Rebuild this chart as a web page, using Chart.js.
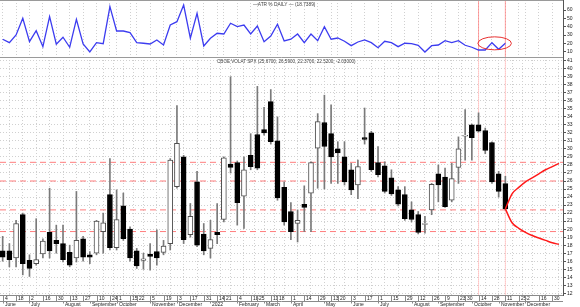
<!DOCTYPE html>
<html><head><meta charset="utf-8">
<script src="https://cdn.jsdelivr.net/npm/chart.js@4.4.0/dist/chart.umd.min.js"></script>
<style>
html,body{margin:0;padding:0;background:#fff;overflow:hidden}
#wrap{position:relative;width:580px;height:307px;background:#fff}
.box{position:absolute;left:0;width:580px}
</style></head><body>
<div id="wrap">
<div class="box" style="top:0;height:57px"><canvas id="c1" width="580" height="57"></canvas></div>
<div class="box" style="top:57px;height:250px"><canvas id="c2" width="580" height="250"></canvas></div>
</div>
<script>
// ---- data (weekly candles, Jun 4 2021 .. Nov 11 2022) ----
const opens = [17.3,17.3,16.4,21.8,16.1,15.7,16.9,19.6,18.6,18.2, 17.1,16.4,18.8,16.8,17.0,19.7,24.3,17.7,22.9,20.0, 17.3,16.1,16.9,17.2,17.1,18.2,25.3,29.0,19.3,25.9, 19.4,17.6,19.6,21.2,28.1,28.3,24.1,29.2,31.8,32.4, 35.9,31.0,25.2,22.2,20.7,23.1,24.5,30.1,33.3,31.9, 30.0,29.0,27.4,25.5,31.4,32.0,28.3,27.9,26.4,24.9, 24.3,22.4,21.8,20.6,22.4,26.9,26.5,23.6,27.7,31.6, 33.0,33.0,32.3,30.8,26.9,25.67];
const highs = [19.1,18.2,21.1,22.0,16.8,21.3,18.8,25.1,20.5,20.5, 18.0,24.7,19.1,17.2,21.1,22.0,28.8,24.9,24.5,20.3, 17.6,17.0,18.2,19.9,18.6,28.8,35.4,29.2,23.2,27.2, 20.7,21.1,23.2,29.0,39.0,28.5,29.0,31.9,37.8,35.2, 37.4,34.0,25.9,23.3,22.4,25.4,28.4,34.4,36.7,35.5, 30.9,30.9,28.2,28.6,35.1,32.2,30.3,28.4,27.4,25.3, 25.3,23.4,22.2,21.6,25.7,28.0,27.6,28.2,31.5,34.9, 33.1,34.5,32.6,30.9,27.2,26.59];
const lows = [16.0,15.3,15.3,14.3,14.1,15.5,16.4,16.4,17.0,15.9, 15.3,15.9,16.0,15.7,16.8,17.0,17.4,17.4,18.6,16.0, 15.1,15.0,14.9,15.5,16.8,17.4,25.1,18.2,19.0,17.8, 16.8,16.4,18.2,20.9,27.0,20.5,20.1,27.4,27.4,31.7, 30.6,23.6,20.5,18.7,18.4,19.7,19.7,25.1,25.0,25.7, 25.7,25.5,24.3,23.8,30.6,27.2,26.5,24.5,24.2,22.9, 21.1,20.9,19.4,19.5,21.8,23.4,22.7,23.4,25.7,28.6, 28.6,32.1,29.4,25.7,24.0,22.37];
const closes = [16.5,16.2,20.7,15.7,15.1,16.2,18.5,17.3,18.2,16.2, 15.5,18.6,16.5,16.5,21.0,20.8,17.7,21.2,18.8,16.4, 15.4,16.3,16.6,16.4,17.9,28.6,30.7,18.7,21.6,18.0, 17.3,18.7,19.3,28.9,27.7,23.3,27.4,27.8,27.6,32.0, 30.9,23.9,20.9,19.7,21.1,22.7,28.3,33.4,30.3,29.0, 29.5,25.9,24.9,27.8,31.2,27.4,26.8,24.7,24.4,23.1, 21.3,21.2,19.6,20.7,25.6,25.5,22.8,26.3,30.0,31.7, 31.4,32.2,29.8,25.9,24.7,22.52];
const atrPct = [24.9,20.8,30.0,50.0,22.0,35.2,16.0,52.0,18.9,27.3, 15.3,48.8,19.2,9.6,20.8,19.6,64.0,34.8,34.8,32.8, 20.8,20.1,19.2,24.0,18.0,42.0,46.0,66.0,26.1,56.0, 16.8,26.1,32.1,31.2,44.1,40.0,42.0,31.2,40.8,22.0, 28.8,42.9,22.8,24.9,31.2,20.8,31.2,23.2,40.0,24.9, 26.4,22.5,17.2,21.6,24.0,20.8,14.8,22.5,20.8,16.0, 20.1,19.6,17.7,9.6,17.2,18.0,23.2,20.8,23.2,17.7, 15.3,12.0,12.0,20.8,12.9,20.1];
// projection cone from last close, next 8 weeks
const projStart = 75;
const projUpper = [22.52,24.4,25.2,25.9,26.4,26.9,27.4,27.8,28.2];
const projLower = [22.52,20.8,20.1,19.6,19.2,18.9,18.6,18.3,18.1];
const levels = [28.33,26.0,22.4,19.7];
const markerWeeks = [71,75];
// axis labels (week index -> text)
const dayTickIdx = [0,2,4,6,8,10,12,14,16,17,19,20,22,24,26,28,30,32,33,35,37,38,40,41,43,45,47,49,50,52,54,56,58,60,62,64,66,68,69,71,73,75,77,78,80,82];
const dayTickText = ['4','18','2','16','30','13','27','10','24','1','15','22','5','19','3','17','31','14','21','4','18','25','11','18','1','14','29','13','20','3','17','1','15','29','12','26','9','23','30','14','28','11','25','2','16','30'];
const monthIdx = [0,4,9,13,17,22,26,31,35,39,43,48,52,56,61,65,70,74,78];
const monthText = ['June','July','August','September','October','November','December','2022','February','March','April','May','June','July','August','September','October','November','December'];
const vixTicks = [12,13,14,15,16,17,18,19,20,21,22,23,24,25,26,27,28,29,30,31,32,33,34,35,36,37,38,39,40,41];
const atrTicks = [10,20,30,40,50,60];
const mainTitle = 'CBOE VOLAT SPX (25.6700, 26.5900, 22.3700, 22.5200, -2.03000)';
const atrTitle = '\u2014ATR % DAILY \u2014 (18.7389)';

const XMIN = -0.4, XMAX = 83.6;
const FONT = '"Liberation Sans", Arial, sans-serif';
const gridCol = '#d0d0d0';

function frame(chart){
  const a = chart.chartArea, ctx = chart.ctx;
  ctx.save(); ctx.strokeStyle = '#9a9a9a'; ctx.lineWidth = 1;
  ctx.beginPath(); ctx.moveTo(0, a.top + 0.5); ctx.lineTo(a.right, a.top + 0.5); ctx.stroke();
  ctx.restore();
}

// ---------- top panel ----------
new Chart(document.getElementById('c1'), {
  type: 'line',
  data: { datasets: [
    { data: atrPct.map((v,i)=>({x:i,y:v})), borderColor:'#3c3cf0', borderWidth:1.3, pointRadius:0, tension:0, order:0 },
    ...markerWeeks.map(w=>({ data:[{x:w,y:0},{x:w,y:100}], borderColor:'rgba(255,120,120,0.7)', borderWidth:1, pointRadius:0, order:2 }))
  ]},
  options: {
    responsive:false, animation:false, events:[], layout:{padding:0},
    plugins:{ legend:{display:false}, tooltip:{enabled:false} },
    scales:{
      x:{ type:'linear', min:XMIN, max:XMAX, offset:false,
          ticks:{display:false}, grid:{color:gridCol, drawTicks:false}, border:{display:false, dash:[1,2]},
          afterBuildTicks:s=>{ s.ticks = dayTickIdx.map(v=>({value:v})); },
          afterFit:s=>{ s.height = 0; } },
      y:{ position:'right', min:3.6, max:72,
          afterBuildTicks:s=>{ s.ticks = atrTicks.map(v=>({value:v})); },
          ticks:{ font:{size:5, family:FONT}, color:'#222', padding:1, autoSkip:false },
          grid:{ color:'rgba(0,0,0,0)', tickColor:'#555', tickLength:3 },
          border:{ display:true, color:'#555' },
          afterFit:s=>{ s.width = 17; s.paddingTop = 0; s.paddingBottom = 0; } }
    }
  },
  plugins:[{ id:'deco1', afterDraw(chart){
    const ctx = chart.ctx, xs = chart.scales.x, ys = chart.scales.y;
    frame(chart);
    ctx.save();
    ctx.font = '4.8px ' + FONT; ctx.fillStyle = '#444'; ctx.textBaseline = 'middle'; ctx.textAlign = 'left';
    ctx.fillText(atrTitle, 253, 4.5);
    const cx = xs.getPixelForValue(73.4), cy = ys.getPixelForValue(20);
    const rx = (xs.getPixelForValue(75.9) - xs.getPixelForValue(70.9))/2;
    ctx.strokeStyle = '#e83030'; ctx.lineWidth = 1;
    ctx.beginPath(); ctx.ellipse(cx, cy, rx, 6.5, 0, 0, Math.PI*2); ctx.stroke();
    ctx.restore();
  }}]
});

// ---------- main panel ----------
const bodyFill = closes.map((c,i)=> c >= opens[i] ? '#ffffff' : '#000000');
const bodyLine = closes.map((c,i)=> c >= opens[i] ? '#505050' : '#000000');

new Chart(document.getElementById('c2'), {
  type: 'bar',
  data: { datasets: [
    { type:'line', data: projUpper.map((v,k)=>({x:projStart+k,y:v})), borderColor:'#ff1a1a', borderWidth:1.5, pointRadius:0, cubicInterpolationMode:'monotone', order:-2 },
    { type:'line', data: projLower.map((v,k)=>({x:projStart+k,y:v})), borderColor:'#ff1a1a', borderWidth:1.5, pointRadius:0, cubicInterpolationMode:'monotone', order:-2 },
    { type:'bar', data: opens.map((o,i)=>({x:i, y:[o, closes[i]]})), backgroundColor: bodyFill, borderColor: bodyLine, borderWidth:1, borderSkipped:false, barThickness:5, grouped:false, order:0 },
    { type:'bar', data: lows.map((l,i)=>({x:i, y:[l, highs[i]]})), backgroundColor:'#7a7a7a', borderWidth:0, barThickness:1, grouped:false, order:1 },
    ...levels.map(v=>({ type:'line', data:[{x:XMIN,y:v},{x:XMAX,y:v}], borderColor:'#ff7d7d', borderWidth:1, borderDash:[6,4], pointRadius:0, order:3 })),
    ...markerWeeks.map(w=>({ type:'line', data:[{x:w,y:0},{x:w,y:60}], borderColor:'rgba(255,120,120,0.8)', borderWidth:1, borderDash:[1,1], pointRadius:0, order:4 }))
  ]},
  options: {
    responsive:false, animation:false, events:[], layout:{padding:0},
    plugins:{ legend:{display:false}, tooltip:{enabled:false} },
    scales:{
      x:{ type:'linear', min:XMIN, max:XMAX, offset:false,
          ticks:{display:false}, grid:{color:gridCol, drawTicks:false}, border:{display:true, color:'#8a8a8a', dash:[1,2]},
          afterBuildTicks:s=>{ s.ticks = dayTickIdx.map(v=>({value:v})); },
          afterFit:s=>{ s.height = 12; s.paddingLeft = 0; s.paddingRight = 0; } },
      y:{ position:'right', min:11.79, max:41.46,
          afterBuildTicks:s=>{ s.ticks = vixTicks.map(v=>({value:v})); },
          ticks:{ font:{size:5, family:FONT}, color:'#222', padding:1, autoSkip:false },
          grid:{ color:gridCol, tickColor:'#555', tickLength:3 },
          border:{ display:true, color:'#555', dash:[1,2] },
          afterFit:s=>{ s.width = 17; s.paddingTop = 0; s.paddingBottom = 0; } }
    }
  },
  plugins:[{ id:'deco2', afterDraw(chart){
    const ctx = chart.ctx, a = chart.chartArea, xs = chart.scales.x;
    frame(chart);
    ctx.save();
    ctx.font = '4.6px ' + FONT; ctx.fillStyle = '#444'; ctx.textBaseline = 'middle'; ctx.textAlign = 'left';
    ctx.fillText(mainTitle, 217, 4.5);
    const y0 = a.bottom;
    ctx.strokeStyle = '#8a8a8a'; ctx.lineWidth = 1;
    ctx.beginPath(); ctx.moveTo(0, y0 + 6.5); ctx.lineTo(a.right, y0 + 6.5); ctx.stroke();
    ctx.font = '5px ' + FONT; ctx.fillStyle = '#222';
    dayTickIdx.forEach((t,k)=>{
      const px = Math.round(xs.getPixelForValue(t)) + 0.5;
      ctx.beginPath(); ctx.moveTo(px, y0); ctx.lineTo(px, y0 + 6.5); ctx.stroke();
      ctx.fillText(dayTickText[k], px + 1.5, y0 + 3.6);
    });
    monthIdx.forEach((t,k)=>{
      const px = Math.round(xs.getPixelForValue(t)) + 0.5;
      ctx.beginPath(); ctx.moveTo(px, y0 + 6.5); ctx.lineTo(px, y0 + 8.5); ctx.stroke();
      ctx.fillText(monthText[k], px + 1.5, y0 + 9.4);
    });
    ctx.restore();
  }}]
});
</script>
</body></html>
